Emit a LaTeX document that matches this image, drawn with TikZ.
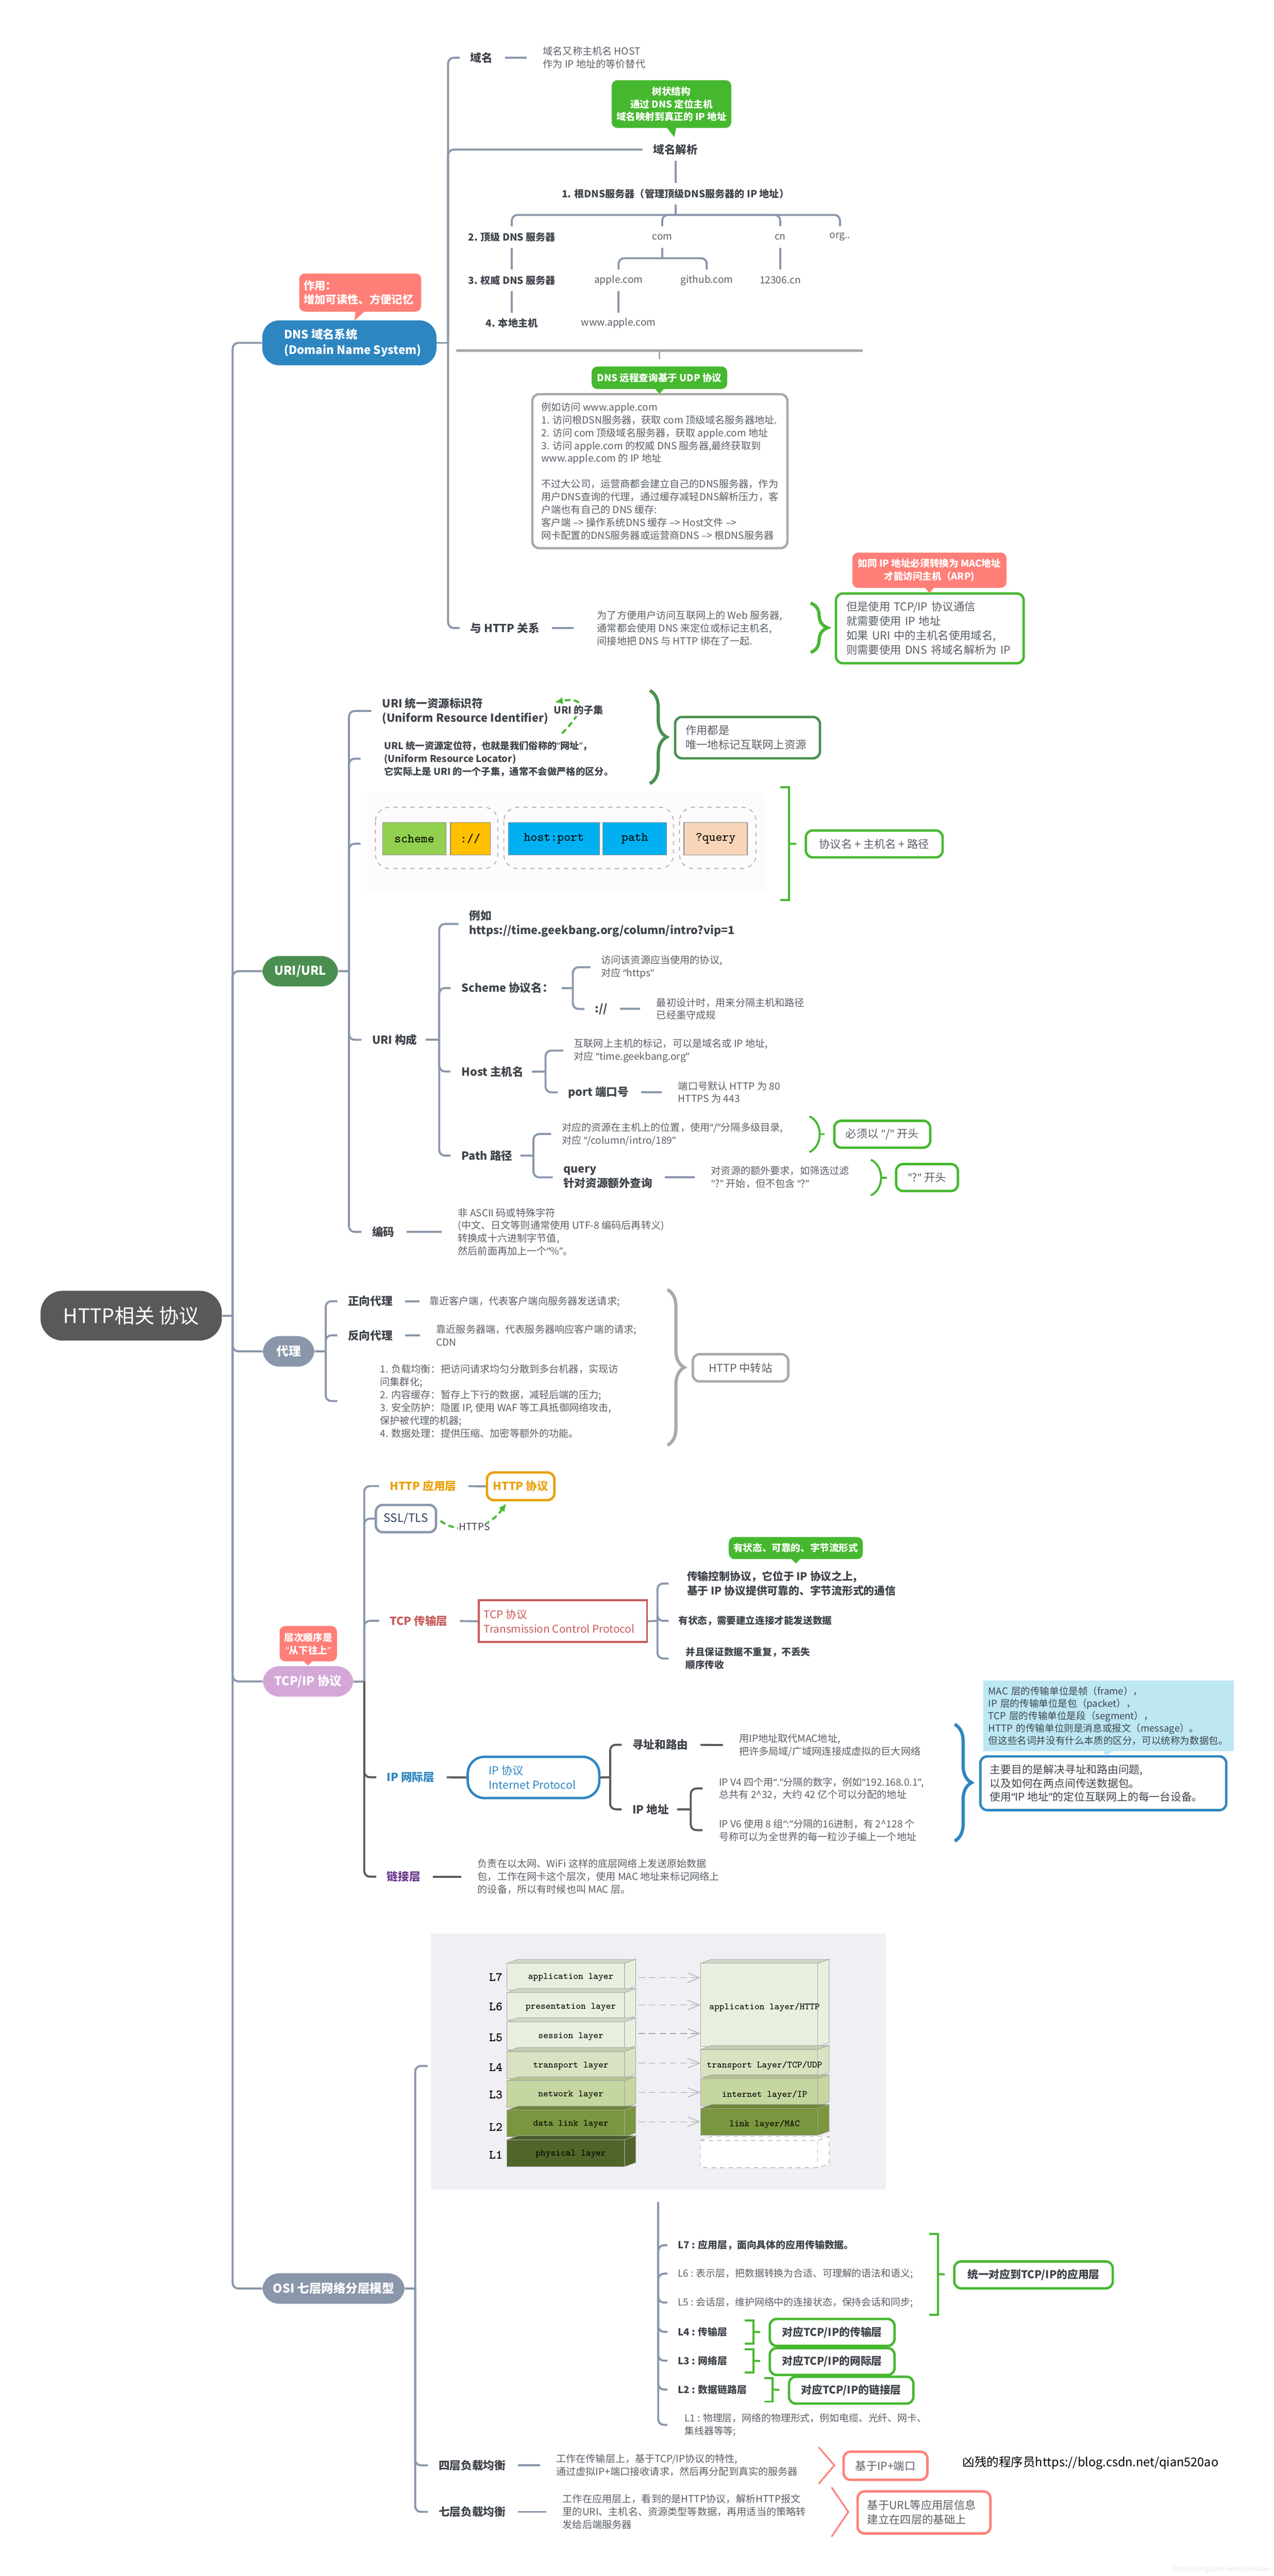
\documentclass[tikz,border=0pt]{standalone}
\usepackage{fontspec}
\setmainfont{Noto Sans CJK SC}
\newfontfamily\latinfont{Noto Sans}
\newcommand{\qo}{{\latinfont “}}
\newcommand{\qc}{{\latinfont ”}}
\newcommand{\qs}{{\latinfont "}}
\usetikzlibrary{calc,arrows.meta,decorations.pathreplacing}
\definecolor{branchgrey}{HTML}{8A97AB}
\definecolor{darkline}{HTML}{595959}
\definecolor{txtgrey}{HTML}{5A5F66}
\definecolor{labgrey}{HTML}{3F444B}
\definecolor{mygreen}{HTML}{46B82F}
\definecolor{dkgreen}{HTML}{4A8F50}
\definecolor{salmon}{HTML}{FF7F78}
\definecolor{myblue}{HTML}{2E86C1}
\definecolor{myorange}{HTML}{E8A20C}
\definecolor{myred}{HTML}{C85A5A}
\definecolor{mypurple}{HTML}{6B3A8E}
\definecolor{lightcyan}{HTML}{BCE7F3}
\definecolor{midgrey}{HTML}{A9A9A9}
\definecolor{lilac}{HTML}{D3A8D8}
\definecolor{osibg}{HTML}{F0EFF4}
\definecolor{urlbg}{HTML}{FDFBFD}
\definecolor{sslblue}{HTML}{2C3E60}
\definecolor{layerA}{HTML}{E8EFDE}
\definecolor{layerB}{HTML}{D9E3C2}
\definecolor{layerC}{HTML}{C5D6A0}
\definecolor{layerD}{HTML}{7A963F}
\definecolor{layerE}{HTML}{51652A}
\tikzset{
  branch/.style={draw=branchgrey,line width=0.05cm,rounded corners=0.14cm},
  branchdark/.style={branch,draw=darkline},
  dashline/.style={branch,shorten <=0.3cm,shorten >=0.4cm},
  dashdark/.style={dashline,draw=darkline},
  stub/.style={branch,shorten >=0.26cm},
  stubdark/.style={stub,draw=darkline},
  txt/.style={font=\fontsize{7}{9.1}\selectfont,text=txtgrey,align=left,anchor=west,inner sep=0pt},
  lab/.style={font=\bfseries\fontsize{7.9}{10.2}\selectfont,text=labgrey,align=left,anchor=west,inner sep=0pt},
  treelab/.style={font=\fontsize{7}{9}\selectfont,text=txtgrey,inner sep=0pt,minimum height=0.52cm},
  treebold/.style={treelab,font=\bfseries\fontsize{7}{9}\selectfont,text=labgrey},
  bignode/.style={rounded corners=0.42cm,text=white,font=\bfseries\fontsize{8.6}{11}\selectfont,inner sep=0pt,minimum height=0.76cm,align=center},
  callout/.style={rounded corners=0.14cm,text=white,font=\bfseries\fontsize{6.8}{9.1}\selectfont,inner sep=0pt,align=center},
  linebox/.style={draw=#1,line width=0.06cm,rounded corners=0.17cm,fill=white,inner ysep=0pt,text=txtgrey,font=\fontsize{7.8}{10.2}\selectfont},
  curly/.style={draw=#1,line width=0.08cm,decorate,decoration={brace,amplitude=0.42cm}},
  urlpart/.style={dashed,draw=midgrey,line width=0.02cm,rounded corners=0.35cm},
  urlbox/.style={draw=black!45,line width=0.015cm,inner sep=0pt,font=\ttfamily\fontsize{9}{11}\selectfont,minimum height=0.81cm},
  layertxt/.style={font=\ttfamily\fontsize{6.7}{8}\selectfont,text=black,inner sep=0pt},
  layerlab/.style={font=\ttfamily\bfseries\fontsize{9}{10}\selectfont,text=black,inner sep=0pt},
  osiarrow/.style={draw=black!35,line width=0.015cm,dash pattern=on 0.16cm off 0.1cm,-{Straight Barb[length=0.3cm,width=0.24cm]}},
  greendash/.style={draw=mygreen,line width=0.05cm,dash pattern=on 0.14cm off 0.09cm,-{Latex[length=0.2cm,width=0.18cm]}},
  bracket/.style={draw=mygreen,line width=0.05cm},
}
\newcommand{\calltip}[3]{\fill[#1] ($(#2.south)+(-0.12,0.02)$) -- (#3) -- ($(#2.south)+(0.12,0.02)$) -- cycle;}
\begin{document}
\begin{tikzpicture}
\useasboundingbox (0,0) rectangle (31.76,-64.24);
% main nodes
\node[bignode,fill=darkline,font=\fontsize{14.2}{17}\selectfont,minimum width=4.52cm,minimum height=1.24cm,rounded corners=0.55cm] (root) at (3.27,-32.81) {HTTP相关 协议};
\node[bignode,fill=myblue,minimum width=4.34cm,minimum height=1.12cm] (dns) at (8.71,-8.55) {};
\node[txt,text=white,font=\bfseries\fontsize{8.2}{11}\selectfont] (dnsTxt) at ($(dns.west)+(0.54,0)$) {DNS 域名系统\\(Domain Name System)};
\node[bignode,fill=dkgreen,minimum width=1.89cm] (url) at (7.485,-24.22) {URI/URL};
\node[bignode,fill=branchgrey,minimum width=1.29cm] (proxy) at (7.195,-33.70) {代理};
\node[bignode,fill=lilac,minimum width=2.26cm] (tcpip) at (7.68,-41.93) {TCP/IP 协议};
\node[bignode,fill=branchgrey,minimum width=3.55cm] (osi) at (8.315,-57.07) {OSI 七层网络分层模型};
\coordinate (mainTrunk) at (5.80,-32.81);
\draw[branch] (root.east) -- (mainTrunk);
\foreach \n in {dns,url,proxy,tcpip,osi} \draw[branch] (mainTrunk) |- (\n.west);
\node[callout,fill=salmon,text width=2.82cm,inner xsep=0.11cm,minimum height=0.95cm,align=left,font=\bfseries\fontsize{7.8}{10}\selectfont] (dnsNote) at (8.98,-7.295) {作用：\\增加可读性、方便记忆};
\calltip{salmon}{dnsNote}{8.84,-7.99}
\node[callout,fill=salmon,minimum width=1.43cm,minimum height=0.88cm] (tcpNote) at (7.685,-40.99) {层次顺序是\\\qo 从下往上\qc};
\calltip{salmon}{tcpNote}{7.67,-41.53}

% DNS
\coordinate (dnsTrunk) at (11.17,-8.55);
\draw[branch] (dns.east) -- (dnsTrunk);
\node[lab] (domain) at (11.72,-1.44) {域名};
\node[txt] (domainTxt) at (13.53,-1.44) {域名又称主机名 HOST\\作为 IP 地址的等价替代};
\draw[stub] (dnsTrunk) |- (domain.west);
\draw[dashline] (domain.east) -- (domainTxt.west);
\node[lab,anchor=center,minimum height=0.54cm] (resolve) at (16.84,-3.73) {域名解析};
\draw[branch,shorten >=0.26cm] (dnsTrunk) |- (resolve.west);
\node[callout,fill=mygreen,minimum width=2.98cm,minimum height=1.19cm] (treeNote) at (16.74,-2.595) {树状结构\\通过 DNS 定位主机\\域名映射到真正的 IP 地址};
\calltip{mygreen}{treeNote}{16.81,-3.42}
\node[treebold] (rootDns) at (16.84,-4.83) {1. 根DNS服务器（管理顶级DNS服务器的 IP 地址）};
\draw[branch] (resolve.south) -- (rootDns.north);
\node[treebold] (tldDns) at (12.76,-5.91) {2. 顶级 DNS 服务器};
\node[treelab] (comDom) at (16.51,-5.91) {com};
\node[treelab] (cnDom) at (19.45,-5.91) {cn};
\node[treelab] (orgDom) at (20.94,-5.91) {org..};
\coordinate (rootBar) at (16.84,-5.36);
\draw[branch] (rootDns.south) -- (rootBar);
\foreach \n in {tldDns,comDom,cnDom,orgDom} \draw[branch] (rootBar) -| (\n.north);
\node[treebold] (authDns) at (12.76,-6.99) {3. 权威 DNS 服务器};
\node[treelab] (appleDom) at (15.42,-6.99) {apple.com};
\node[treelab] (githubDom) at (17.62,-6.99) {github.com};
\node[treelab] (cnSite) at (19.45,-6.99) {12306.cn};
\coordinate (comBar) at (16.51,-6.44);
\draw[branch] (comDom.south) -- (comBar);
\foreach \n in {appleDom,githubDom} \draw[branch] (comBar) -| (\n.north);
\draw[branch] (tldDns.south) -- (authDns.north);
\draw[branch] (cnDom.south) -- (cnSite.north);
\node[treebold] (localHost) at (12.76,-8.06) {4. 本地主机};
\node[treelab] (wwwApple) at (15.42,-8.06) {www.apple.com};
\draw[branch] (authDns.south) -- (localHost.north);
\draw[branch] (appleDom.south) -- (wwwApple.north);
% summary bar
\coordinate (barLeft) at (11.40,-8.74);
\coordinate (barRight) at (21.48,-8.74);
\coordinate (barMid) at (16.44,-8.74);
\coordinate (barEnd) at (16.44,-8.95);
\draw[draw=midgrey,line width=0.07cm,line cap=round] (barLeft) -- (barRight);
\draw[draw=midgrey,line width=0.03cm] (barMid) -- (barEnd);
\node[callout,fill=mygreen,minimum width=3.38cm,minimum height=0.56cm] (udpNote) at (16.44,-9.42) {DNS 远程查询基于 UDP 协议};
\node[linebox=midgrey,minimum width=6.36cm,minimum height=3.84cm] (dnsExample) at (16.45,-11.75) {};
\node[txt] (dnsExampleTxt) at ($(dnsExample.west)+(0.25,0)$) {例如访问 www.apple.com\\1. 访问根DSN服务器，获取 com 顶级域名服务器地址.\\2. 访问 com 顶级域名服务器，获取 apple.com 地址\\3. 访问 apple.com 的权威 DNS 服务器,最终获取到\\www.apple.com 的 IP 地址\\[9.1pt]不过大公司，运营商都会建立自己的DNS服务器，作为\\用户DNS查询的代理，通过缓存减轻DNS解析压力，客\\户端也有自己的 DNS 缓存:\\客户端 --> 操作系统DNS 缓存 --> Host文件 -->\\网卡配置的DNS服务器或运营商DNS --> 根DNS服务器};
\calltip{mygreen}{udpNote}{16.44,-9.82}
\node[lab] (httpRel) at (11.72,-15.66) {与 HTTP 关系};
\node[txt] (httpRelTxt) at (14.88,-15.66) {为了方便用户访问互联网上的 Web 服务器,\\通常都会使用 DNS 来定位或标记主机名,\\间接地把 DNS 与 HTTP 绑在了一起.};
\draw[stub] (dnsTrunk) |- (httpRel.west);
\draw[dashline,shorten >=0.58cm] (httpRel.east) -- (httpRelTxt.west);
\coordinate (braceATop) at (20.21,-15.04);
\coordinate (braceABot) at (20.21,-16.27);
\draw[curly=mygreen] (braceATop) -- (braceABot);
\node[linebox=mygreen,text width=4.16cm,inner xsep=0.26cm,minimum height=1.74cm,align=left] (arpBox) at (23.18,-15.67) {但是使用 TCP/IP 协议通信\\就需要使用 IP 地址\\如果 URI 中的主机名使用域名,\\则需要使用 DNS 将域名解析为 IP};
\node[callout,fill=salmon,minimum width=3.84cm,minimum height=0.88cm] (arpNote) at (23.17,-14.22) {如同 IP 地址必须转换为 MAC地址\\才能访问主机（ARP)};
\calltip{salmon}{arpNote}{23.17,-14.79}

% URI/URL
\coordinate (urlTrunk) at (8.70,-24.22);
\draw[branch] (url.east) -- (urlTrunk);
\node[lab] (uriName) at (9.52,-17.73) {URI 统一资源标识符\\(Uniform Resource Identifier)};
\node[lab,font=\bfseries\fontsize{6.7}{9.1}\selectfont] (urlName) at (9.57,-18.92) {URL 统一资源定位符，也就是我们俗称的\qo 网址\qc，\\(Uniform Resource Locator)\\它实际上是 URI 的一个子集，通常不会做严格的区分。};
\coordinate (subsetStart) at (14.01,-18.29);
\coordinate (subsetEnd) at (13.83,-17.51);
\draw[greendash] (subsetStart) .. controls (14.45,-17.85) and (14.75,-17.35) .. node[pos=0.47,fill=white,inner sep=1pt,font=\bfseries\fontsize{7}{9}\selectfont,text=labgrey] (subsetLab) {URI 的子集} (subsetEnd);
\draw[stub] (urlTrunk) |- (uriName.west);
\draw[branch,shorten >=0.58cm] (urlTrunk) |- (urlName.west);
\coordinate (urlPicEnd) at (8.99,-21.04);
\draw[branch] (urlTrunk) |- (urlPicEnd);
\coordinate (braceBTop) at (16.20,-17.22);
\coordinate (braceBBot) at (16.20,-19.54);
\draw[curly=dkgreen] (braceBTop) -- (braceBBot);
\node[linebox=dkgreen,text width=3.09cm,inner xsep=0.26cm,minimum height=1.03cm,align=left] (uniqueBox) at (18.635,-18.395) {作用都是\\唯一地标记互联网上资源};
% url picture
\fill[urlbg] (9.16,-19.76) rectangle (19.11,-22.25);
\draw[urlpart] (9.36,-20.13) rectangle (12.41,-21.66);
\draw[urlpart] (12.56,-20.13) rectangle (16.79,-21.66);
\draw[urlpart] (16.94,-20.13) rectangle (18.85,-21.66);
\node[urlbox,fill={rgb,255:red,146;green,208;blue,80},minimum width=1.58cm] (schemeBox) at (10.33,-20.915) {scheme};
\node[urlbox,fill={rgb,255:red,255;green,192;blue,0},minimum width=0.99cm] (sepBox) at (11.725,-20.915) {://};
\node[urlbox,fill={rgb,255:red,0;green,176;blue,240},minimum width=2.28cm] (hostBox) at (13.81,-20.915) {host:port};
\node[urlbox,fill={rgb,255:red,0;green,176;blue,240},minimum width=1.59cm] (pathBox) at (15.825,-20.915) {path};
\node[urlbox,fill={rgb,255:red,248;green,213;blue,184},minimum width=1.58cm] (queryBox) at (17.84,-20.915) {?query};
\coordinate (brackATop) at (19.45,-19.63);
\coordinate (brackABot) at (19.45,-22.45);
\coordinate (brackAMid) at (19.67,-21.04);
\draw[bracket] (brackATop) -| (brackAMid) |- (brackABot);
\node[linebox=mygreen,minimum width=3.41cm,minimum height=0.67cm] (urlFormBox) at (21.795,-21.045) {协议名 + 主机名 + 路径};
\draw[bracket,shorten >=0.21cm] (brackAMid) -- (urlFormBox.west);
% URI parts
\node[lab] (uriParts) at (9.27,-25.93) {URI 构成};
\draw[stub] (urlTrunk) |- (uriParts.west);
\coordinate (partsTrunk) at (10.95,-25.93);
\draw[branch,shorten <=0.2cm] (uriParts.east) -- (partsTrunk);
\node[lab] (eg) at (11.69,-23.04) {例如\\https://time.geekbang.org/column/intro?vip=1};
\draw[stub] (partsTrunk) |- (eg.west);
\node[lab] (schemeLab) at (11.50,-24.64) {Scheme 协议名：};
\draw[branch,shorten >=0.27cm] (partsTrunk) |- (schemeLab.west);
\coordinate (schemeTrunk) at (14.28,-24.64);
\draw[branch,shorten <=0.2cm] (schemeLab.east) -- (schemeTrunk);
\node[txt] (schemeTxt) at (14.98,-24.12) {访问该资源应当使用的协议,\\对应 \qo https\qc};
\node[lab] (sepLab) at (14.83,-25.16) {://};
\node[txt] (sepTxt) at (16.36,-25.16) {最初设计时，用来分隔主机和路径\\已经墨守成规};
\draw[stub] (schemeTrunk) |- (schemeTxt.west);
\draw[stub] (schemeTrunk) |- (sepLab.west);
\draw[dashline] (sepLab.east) -- (sepTxt.west);
\node[lab] (hostLab) at (11.50,-26.72) {Host 主机名};
\draw[branch,shorten >=0.27cm] (partsTrunk) |- (hostLab.west);
\coordinate (hostTrunk) at (13.60,-26.72);
\draw[branch,shorten <=0.2cm] (hostLab.east) -- (hostTrunk);
\node[txt] (hostTxt) at (14.30,-26.20) {互联网上主机的标记，可以是域名或 IP 地址,\\对应 \qo time.geekbang.org\qc};
\node[lab] (portLab) at (14.16,-27.24) {port 端口号};
\node[txt] (portTxt) at (16.90,-27.24) {端口号默认 HTTP 为 80\\HTTPS 为 443};
\draw[stub] (hostTrunk) |- (hostTxt.west);
\draw[stub] (hostTrunk) |- (portLab.west);
\draw[dashline] (portLab.east) -- (portTxt.west);
\node[lab] (pathLab) at (11.50,-28.82) {Path 路径};
\draw[branch,shorten >=0.27cm] (partsTrunk) |- (pathLab.west);
\coordinate (pathTrunk) at (13.30,-28.82);
\draw[branch,shorten <=0.2cm] (pathLab.east) -- (pathTrunk);
\node[txt] (pathTxt) at (14.00,-28.28) {对应的资源在主机上的位置，使用\qo/\qc 分隔多级目录,\\对应 \qo/column/intro/189\qc};
\node[lab] (queryLab) at (14.04,-29.36) {query\\针对资源额外查询};
\node[txt] (queryTxt) at (17.72,-29.36) {对资源的额外要求，如筛选过滤\\\qs?\qs{} 开始，但不包含 \qo?\qc};
\draw[stub] (pathTrunk) |- (pathTxt.west);
\draw[stub] (pathTrunk) |- (queryLab.west);
\draw[dashline] (queryLab.east) -- (queryTxt.west);
\node[linebox=mygreen,minimum width=2.39cm,minimum height=0.67cm] (slashBox) at (21.995,-28.285) {必须以 \qs/\qs{} 开头};
\draw[draw=mygreen,line width=0.05cm] (20.18,-27.84) .. controls (20.52,-28.0) and (20.52,-28.57) .. (20.18,-28.73);
\coordinate (parenA) at (20.43,-28.285);
\draw[bracket,shorten >=0.21cm] (parenA) -- (slashBox.west);
\node[linebox=mygreen,minimum width=1.54cm,minimum height=0.67cm] (markBox) at (23.11,-29.365) {\qs?\qs{} 开头};
\draw[draw=mygreen,line width=0.05cm] (21.71,-28.92) .. controls (22.05,-29.08) and (22.05,-29.65) .. (21.71,-29.81);
\coordinate (parenB) at (21.96,-29.365);
\draw[bracket,shorten >=0.2cm] (parenB) -- (markBox.west);
\node[lab] (encLab) at (9.27,-30.72) {编码};
\node[txt] (encTxt) at (11.41,-30.72) {非 ASCII 码或特殊字符\\(中文、日文等则通常使用 UTF-8 编码后再转义)\\转换成十六进制字节值,\\然后前面再加上一个\qo\%\qc。};
\draw[stub] (urlTrunk) |- (encLab.west);
\draw[dashline] (encLab.east) -- (encTxt.west);

% proxy
\coordinate (proxyTrunk) at (8.12,-33.70);
\draw[branch] (proxy.east) -- (proxyTrunk);
\node[lab] (fwdLab) at (8.67,-32.45) {正向代理};
\node[txt] (fwdTxt) at (10.70,-32.45) {靠近客户端，代表客户端向服务器发送请求;};
\node[lab] (revLab) at (8.67,-33.30) {反向代理};
\node[txt] (revTxt) at (10.87,-33.30) {靠近服务器端，代表服务器响应客户端的请求;\\CDN};
\node[txt] (useTxt) at (9.47,-34.94) {1. 负载均衡：把访问请求均匀分散到多台机器，实现访\\问集群化;\\2. 内容缓存：暂存上下行的数据，减轻后端的压力;\\3. 安全防护：隐匿 IP, 使用 WAF 等工具抵御网络攻击,\\保护被代理的机器;\\4. 数据处理：提供压缩、加密等额外的功能。};
\draw[stub] (proxyTrunk) |- (fwdLab.west);
\draw[stub] (proxyTrunk) |- (revLab.west);
\draw[branch,shorten >=1.06cm] (proxyTrunk) |- (useTxt.west);
\draw[dashline,shorten >=0.24cm] (fwdLab.east) -- (fwdTxt.west);
\draw[dashline] (revLab.east) -- (revTxt.west);
\coordinate (braceCTop) at (16.64,-32.16);
\coordinate (braceCBot) at (16.64,-36.04);
\draw[curly=midgrey] (braceCTop) -- (braceCBot);
\node[linebox=midgrey,minimum width=2.38cm,minimum height=0.68cm] (relayBox) at (18.46,-34.11) {HTTP 中转站};

% TCP/IP
\coordinate (tcpTrunk) at (9.08,-41.93);
\draw[branch] (tcpip.east) -- (tcpTrunk);
\node[lab,text=myorange] (httpLayer) at (9.71,-37.06) {HTTP 应用层};
\node[linebox=myorange,text=myorange,font=\bfseries\fontsize{7.9}{10}\selectfont,minimum width=1.68cm,minimum height=0.69cm] (httpBox) at (12.98,-37.065) {HTTP 协议};
\node[linebox=branchgrey,text=sslblue,font=\fontsize{8.2}{10}\selectfont,minimum width=1.50cm,minimum height=0.68cm] (sslBox) at (10.12,-37.87) {SSL/TLS};
\draw[stub] (tcpTrunk) |- (httpLayer.west);
\draw[branch] (tcpTrunk) |- (sslBox.west);
\draw[branch,shorten <=0.3cm] (httpLayer.east) -- (httpBox.west);
\coordinate (httpsEnd) at (12.62,-37.49);
\draw[greendash,shorten <=0.1cm] (sslBox.east) .. controls (11.5,-38.3) and (12.2,-38.1) .. node[pos=0.5,fill=white,inner sep=0.5pt,font=\fontsize{7}{9}\selectfont,text=labgrey] (httpsLab) {HTTPS} (httpsEnd);
\node[lab,text=myred] (tcpLayer) at (9.71,-40.42) {TCP 传输层};
\draw[stub] (tcpTrunk) |- (tcpLayer.west);
\node[draw=myred,line width=0.05cm,inner sep=0pt,minimum width=4.19cm,minimum height=1.04cm] (tcpBox) at (14.035,-40.43) {};
\node[txt,text=myred,font=\fontsize{7.6}{10.2}\selectfont] (tcpBoxTxt) at ($(tcpBox.west)+(0.14,0)$) {TCP 协议\\Transmission Control Protocol};
\draw[branch,shorten <=0.3cm] (tcpLayer.east) -- (tcpBox.west);
\coordinate (tcpSub) at (16.39,-40.42);
\draw[branch] (tcpBox.east) -- (tcpSub);
\node[lab,font=\bfseries\fontsize{7.6}{10.3}\selectfont] (tcpTxtA) at (17.12,-39.49) {传输控制协议，它位于 IP 协议之上,\\基于 IP 协议提供可靠的、字节流形式的通信};
\node[lab,font=\bfseries\fontsize{6.8}{9.1}\selectfont] (tcpTxtB) at (16.91,-40.42) {有状态，需要建立连接才能发送数据};
\node[lab,font=\bfseries\fontsize{6.8}{9.1}\selectfont] (tcpTxtC) at (17.09,-41.36) {并且保证数据不重复，不丢失\\顺序传收};
\draw[branch,shorten >=0.45cm] (tcpSub) |- (tcpTxtA.west);
\draw[branch,shorten >=0.24cm] (tcpSub) |- (tcpTxtB.west);
\draw[branch,shorten >=0.42cm] (tcpSub) |- (tcpTxtC.west);
\node[callout,fill=mygreen,minimum width=3.34cm,minimum height=0.55cm] (tcpTag) at (19.84,-38.605) {有状态、可靠的、字节流形式};
\calltip{mygreen}{tcpTag}{19.84,-38.99}
\node[lab,text=myblue] (ipLayer) at (9.64,-44.32) {IP 网际层};
\draw[branchdark,shorten >=0.26cm] (tcpTrunk) |- (ipLayer.west);
\node[linebox=myblue,rounded corners=0.42cm,minimum width=3.28cm,minimum height=1.03cm] (ipBox) at (13.30,-44.325) {};
\node[txt,text=myblue,font=\fontsize{7.8}{10.2}\selectfont] (ipBoxTxt) at ($(ipBox.west)+(0.55,0)$) {IP 协议\\Internet Protocol};
\draw[branchdark,shorten <=0.3cm] (ipLayer.east) -- (ipBox.west);
\coordinate (ipSub) at (15.21,-44.32);
\draw[branchdark] (ipBox.east) -- (ipSub);
\node[lab] (routeLab) at (15.76,-43.51) {寻址和路由};
\node[txt] (routeTxt) at (18.42,-43.52) {用IP地址取代MAC地址,\\把许多局域/广域网连接成虚拟的巨大网络};
\draw[stubdark] (ipSub) |- (routeLab.west);
\draw[dashdark] (routeLab.east) -- (routeTxt.west);
\node[lab] (addrLab) at (15.76,-45.12) {IP 地址};
\draw[stubdark] (ipSub) |- (addrLab.west);
\coordinate (addrSub) at (17.22,-45.12);
\draw[branchdark,shorten <=0.2cm] (addrLab.east) -- (addrSub);
\node[txt] (v4Txt) at (17.92,-44.60) {IP V4 四个用\qo.\qc 分隔的数字，例如\qo 192.168.0.1\qc,\\总共有 2\textasciicircum 32，大约 42 亿个可以分配的地址};
\node[txt] (v6Txt) at (17.92,-45.64) {IP V6 使用 8 组\qo:\qc 分隔的16进制，有 2\textasciicircum 128 个\\号称可以为全世界的每一粒沙子编上一个地址};
\draw[branchdark,shorten >=0.41cm] (addrSub) |- (v4Txt.west);
\draw[branchdark,shorten >=0.41cm] (addrSub) |- (v6Txt.west);
\coordinate (braceDTop) at (23.80,-43.00);
\coordinate (braceDBot) at (23.80,-45.91);
\draw[curly=myblue] (braceDTop) -- (braceDBot);
\node[linebox=myblue,minimum width=6.13cm,minimum height=1.34cm] (ipGoalBox) at (27.505,-44.47) {};
\node[txt,text=labgrey,font=\fontsize{7.6}{9.7}\selectfont] (ipGoalTxt) at ($(ipGoalBox.west)+(0.26,0)$) {主要目的是解决寻址和路由问题,\\以及如何在两点间传送数据包。\\使用\qo IP 地址\qc 的定位互联网上的每一台设备。};
\node[fill=lightcyan,inner ysep=0pt,text=labgrey,font=\fontsize{6.8}{8.75}\selectfont,text width=6.0cm,inner xsep=0.12cm,minimum height=1.76cm,align=left] (unitNote) at (27.64,-42.79) {MAC 层的传输单位是帧（frame），\\IP 层的传输单位是包（packet），\\TCP 层的传输单位是段（segment），\\HTTP 的传输单位则是消息或报文（message）。\\但这些名词并没有什么本质的区分，可以统称为数据包。};
\calltip{lightcyan}{unitNote}{27.55,-43.79}
\node[lab,text=mypurple] (linkLayer) at (9.64,-46.80) {链接层};
\node[txt] (linkTxt) at (11.90,-46.80) {负责在以太网、WiFi 这样的底层网络上发送原始数据\\包，工作在网卡这个层次，使用 MAC 地址来标记网络上\\的设备，所以有时候也叫 MAC 层。};
\draw[branchdark,shorten >=0.26cm] (tcpTrunk) |- (linkLayer.west);
\draw[dashdark] (linkLayer.east) -- (linkTxt.west);

% OSI
\coordinate (osiTrunk) at (10.35,-57.07);
\draw[branch] (osi.east) -- (osiTrunk);
\fill[osibg] (10.74,-48.22) rectangle (22.08,-54.60);
\coordinate (picEnd) at (10.66,-51.52);
\draw[branch] (osiTrunk) |- (picEnd);
\foreach \lname/\ytop/\ybot/\col/\ltxt/\ly in {7/48.96/49.63/layerA/application layer/49.31,6/49.69/50.37/layerA/presentation layer/50.04,5/50.42/51.11/layerA/session layer/50.81,4/51.16/51.83/layerB/transport layer/51.55,3/51.89/52.56/layerC/network layer/52.24,2/52.62/53.29/layerD/data link layer/53.05,1/53.36/54.03/layerE/physical layer/53.74}{
  \fill[\col!90!black,draw=black!35,line width=0.012cm] (12.64,-\ytop) -- (12.92,-\ytop+0.10) -- (15.85,-\ytop+0.10) -- (15.57,-\ytop) -- cycle;
  \fill[\col,draw=black!35,line width=0.012cm] (15.57,-\ytop) -- (15.85,-\ytop+0.10) -- (15.85,-\ybot+0.10) -- (15.57,-\ybot) -- cycle;
  \fill[\col,draw=black!35,line width=0.012cm] (12.64,-\ytop) rectangle (15.57,-\ybot);
  \node[layertxt] (layer\lname) at (14.23,{-(\ytop+\ybot)/2-0.02}) {\ltxt};
  \node[layerlab] (mark\lname) at (12.36,-\ly) {L\lname};
}
\foreach \rname/\ytop/\ybot/\col/\rtxt in {app/48.96/51.04/layerA/{application layer/HTTP},trans/51.11/51.78/layerB/{transport Layer/TCP/UDP},inet/51.84/52.52/layerC/{internet layer/IP},link/52.58/53.25/layerD/{link layer/MAC}}{
  \fill[\col!90!black,draw=black!35,line width=0.012cm] (17.46,-\ytop) -- (17.74,-\ytop+0.10) -- (20.67,-\ytop+0.10) -- (20.38,-\ytop) -- cycle;
  \fill[\col,draw=black!35,line width=0.012cm] (20.38,-\ytop) -- (20.67,-\ytop+0.10) -- (20.67,-\ybot+0.10) -- (20.38,-\ybot) -- cycle;
  \fill[\col,draw=black!35,line width=0.012cm] (17.46,-\ytop) rectangle (20.38,-\ybot);
  \node[layertxt] (right\rname) at (19.06,{-(\ytop+\ybot)/2-0.06}) {\rtxt};
}
\draw[dashed,fill=white,draw=black!40,line width=0.012cm] (17.46,-53.38) -- (17.74,-53.28) -- (20.67,-53.28) -- (20.67,-53.96) -- (20.38,-54.06) -- (17.46,-54.06) -- cycle;
\draw[dashed,draw=black!40,line width=0.012cm] (17.46,-53.38) -- (20.38,-53.38) -- (20.67,-53.28) (20.38,-53.38) -- (20.38,-54.06);
\foreach \n/\ya in {7/49.32,6/50.00,5/50.71,4/51.45,3/52.18,2/52.91}{
  \coordinate (arrowL\n) at (15.92,-\ya);
  \coordinate (arrowR\n) at (17.46,-\ya);
  \draw[osiarrow] (arrowL\n) -- (arrowR\n);
}
% seven layers list
\coordinate (layerTop) at (16.41,-54.91);
\coordinate (layerTrunk) at (16.41,-57.42);
\draw[branch] (layerTop) -- (layerTrunk);
\tikzset{leveltxt/.style={txt,font=\fontsize{6.9}{9}\selectfont},levelbold/.style={lab,font=\bfseries\fontsize{6.9}{9}\selectfont}}
\node[levelbold] (levelA) at (16.89,-55.99) {L7 : 应用层，面向具体的应用传输数据。};
\node[leveltxt] (levelB) at (16.89,-56.70) {L6 : 表示层，把数据转换为合适、可理解的语法和语义;};
\node[leveltxt] (levelC) at (16.89,-57.42) {L5 : 会话层，维护网络中的连接状态，保持会话和同步;};
\node[levelbold] (levelD) at (16.89,-58.15) {L4 : 传输层};
\node[levelbold] (levelE) at (16.89,-58.87) {L3 : 网络层};
\node[levelbold] (levelF) at (16.89,-59.59) {L2 : 数据链路层};
\node[leveltxt] (levelG) at (17.06,-60.47) {L1 : 物理层，网络的物理形式，例如电缆、光纤、网卡、\\集线器等等;};
\foreach \n in {levelA,levelB,levelC,levelD,levelE,levelF} \draw[branch,shorten >=0.25cm] (layerTrunk) |- (\n.west);
\draw[branch,shorten >=0.42cm] (layerTrunk) |- (levelG.west);
% level brackets
\coordinate (brackBTop) at (23.17,-55.71);
\coordinate (brackBBot) at (23.17,-57.73);
\coordinate (brackBMid) at (23.38,-56.71);
\draw[bracket] (brackBTop) -| (brackBMid) |- (brackBBot);
\tikzset{levelbox/.style={linebox=mygreen,text=labgrey,font=\bfseries\fontsize{7.6}{10}\selectfont,minimum height=0.67cm}}
\node[levelbox,minimum width=3.95cm] (appBox) at (25.765,-56.73) {统一对应到TCP/IP的应用层};
\draw[bracket,shorten >=0.21cm] (brackBMid) -- (appBox.west);
\coordinate (brackCTop) at (18.56,-57.87);
\coordinate (brackCBot) at (18.56,-58.45);
\coordinate (brackCMid) at (18.78,-58.15);
\draw[bracket] (brackCTop) -| (brackCMid) |- (brackCBot);
\node[levelbox,minimum width=3.11cm] (transBox) at (20.745,-58.165) {对应TCP/IP的传输层};
\draw[bracket,shorten >=0.21cm] (brackCMid) -- (transBox.west);
\coordinate (brackDTop) at (18.56,-58.59);
\coordinate (brackDBot) at (18.56,-59.17);
\coordinate (brackDMid) at (18.78,-58.87);
\draw[bracket] (brackDTop) -| (brackDMid) |- (brackDBot);
\node[levelbox,minimum width=3.11cm] (netBox) at (20.745,-58.89) {对应TCP/IP的网际层};
\draw[bracket,shorten >=0.21cm] (brackDMid) -- (netBox.west);
\coordinate (brackETop) at (19.05,-59.31);
\coordinate (brackEBot) at (19.05,-59.89);
\coordinate (brackEMid) at (19.26,-59.59);
\draw[bracket] (brackETop) -| (brackEMid) |- (brackEBot);
\node[levelbox,minimum width=3.10cm] (linkBox) at (21.22,-59.605) {对应TCP/IP的链接层};
\draw[bracket,shorten >=0.21cm] (brackEMid) -- (linkBox.west);
% load balance
\node[lab] (fourLab) at (10.93,-61.48) {四层负载均衡};
\node[txt] (fourTxt) at (13.86,-61.48) {工作在传输层上，基于TCP/IP协议的特性,\\通过虚拟IP+端口接收请求，然后再分配到真实的服务器};
\node[lab] (sevenLab) at (10.93,-62.64) {七层负载均衡};
\node[txt] (sevenTxt) at (14.02,-62.64) {工作在应用层上，看到的是HTTP协议，解析HTTP报文\\里的URI、主机名、资源类型等数据，再用适当的策略转\\发给后端服务器};
\draw[stub] (osiTrunk) |- (fourLab.west);
\draw[stub] (osiTrunk) |- (sevenLab.west);
\draw[dashline] (fourLab.east) -- (fourTxt.west);
\draw[dashline] (sevenLab.east) -- (sevenTxt.west);
\draw[draw=salmon,line width=0.04cm] (20.41,-61.03) -- (20.80,-61.48) -- (20.41,-61.94);
\node[linebox=salmon,minimum width=2.09cm,minimum height=0.70cm] (ipPortBox) at (22.075,-61.49) {基于IP+端口};
\draw[draw=salmon,line width=0.04cm] (20.73,-62.03) -- (21.15,-62.64) -- (20.73,-63.26);
\node[linebox=salmon,text width=2.83cm,inner xsep=0.24cm,minimum height=1.05cm,align=left] (urlBasedBox) at (23.035,-62.655) {基于URL等应用层信息\\建立在四层的基础上};
\node[font=\fontsize{8.6}{10}\selectfont,text=black,inner sep=0pt,anchor=west] (creditTxt) at (23.99,-61.42) {凶残的程序员https://blog.csdn.net/qian520ao};
\node[font=\fontsize{4.5}{5}\selectfont,text=black!10,inner sep=0pt,anchor=east] (waterTxt) at (31.65,-64.07) {https://blog.csdn.net/qian520ao};
\end{tikzpicture}
\end{document}
